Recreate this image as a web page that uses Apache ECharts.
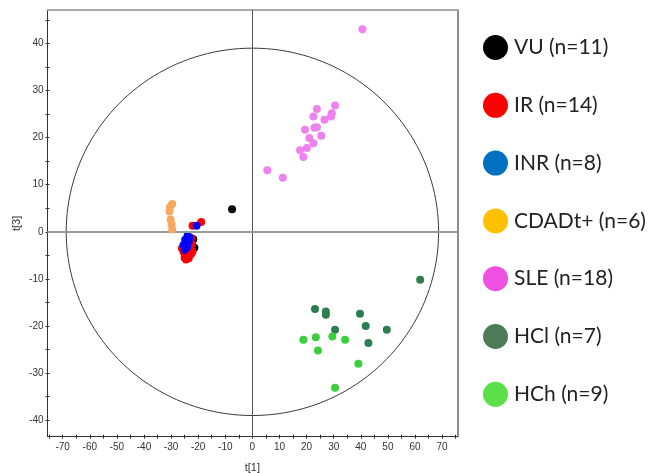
<!DOCTYPE html>
<html><head><meta charset="utf-8">
<script src="https://cdn.jsdelivr.net/npm/echarts@6/dist/echarts.min.js"></script>
<style>html,body{margin:0;padding:0;background:#fff}#c{width:649px;height:473px}</style>
</head><body><div id="c"></div>
<script>
// ---- data (t[1], t[3]) ----
const groupNames = ['VU (n=11)','IR (n=14)','INR (n=8)','CDADt+ (n=6)','SLE (n=18)','HCl (n=7)','HCh (n=9)'];
const VU = [[-7.5,4.8],[-21.4,-3.4],[-21.8,-1.6],[-23.5,-3.0],[-24.0,-4.0],[-23.0,-2.5],[-24.5,-2.0],[-23.8,-5.0],[-24.8,-4.5],[-23.3,-1.5],[-22.6,-4.4]];
const IR = [[-22.1,1.3],[-18.9,2.1],[-22.6,-1.3],[-22.3,-2.6],[-25.4,-4.3],[-24.1,-4.9],[-23.5,-5.6],[-25.0,-5.5],[-22.6,-4.7],[-22.9,-3.8],[-26.0,-3.5],[-24.5,-5.9],[-22.1,-4.2],[-23.8,-4.2]];
const INR = [[-20.6,1.3],[-23.9,-0.8],[-24.8,-1.7],[-23.5,-2.1],[-25.4,-2.8],[-24.1,-3.3],[-25.0,-3.8],[-23.2,-1.2]];
const CDADt = [[-29.6,5.9],[-30.4,5.2],[-30.6,4.3],[-30.2,2.6],[-29.8,1.6],[-29.6,0.5]];
const SLE = [[30.5,26.8],[23.8,26.1],[29.3,25.2],[29.0,24.5],[22.5,24.5],[26.6,23.8],[19.4,21.7],[22.9,22.1],[23.8,22.2],[25.4,20.4],[21.0,19.9],[22.5,18.8],[20.1,17.8],[17.6,17.3],[18.8,15.9],[5.5,13.1],[11.2,11.5],[40.6,43.0]];
const HCl = [[61.9,-10.2],[23.1,-16.4],[27.1,-16.9],[27.1,-17.6],[39.7,-17.4],[41.8,-20.0],[30.5,-20.8],[49.6,-20.8],[42.8,-23.6]];
const HCh = [[18.8,-22.9],[23.4,-22.4],[29.5,-22.2],[34.2,-22.9],[24.2,-25.2],[39.1,-28.0],[30.5,-33.1]];
// Hotelling T2 ellipse semi-axes (t[1], t[3])
const T2_A = 68.7, T2_B = 39.0;
// axis ticks / labels
const xLabels = [-70,-60,-50,-40,-30,-20,-10,0,10,20,30,40,50,60,70];
const xTicks = [-75,-70,-65,-60,-55,-50,-45,-40,-35,-30,-25,-20,-15,-10,-5,0,5,10,15,20,25,30,35,40,45,50,55,60,65,70,75];
const yLabels = [-40,-30,-20,-10,0,10,20,30,40];
const yTicks = [-40,-35,-30,-25,-20,-15,-10,-5,0,5,10,15,20,25,30,35,40,45];

const pointColors = ['#000000','#ff0000','#0000ff','#f8a860','#ee82ee','#2e7d50','#3ccf3c'];
const legendColors = ['#000000','#ff0000','#0070c0','#ffc000','#ee50e2','#4e7a57','#5be04a'];
const groups = [VU, IR, INR, CDADt, SLE, HCl, HCh];

const X_MIN=-75.6, X_MAX=75.6, Y_MIN=-43.5, Y_MAX=47.1;
const labelFont = {fontFamily:'Liberation Sans, Arial', fontSize:10, color:'#333'};

const chart = echarts.init(document.getElementById('c'), null, {renderer:'canvas'});
const mainX = {type:'value', min:X_MIN, max:X_MAX, position:'bottom', gridIndex:0,
  name:'t[1]', nameLocation:'middle', nameGap:26, nameTextStyle:Object.assign({},labelFont,{fontSize:11}),
  axisLine:{show:true, onZero:false, lineStyle:{color:'#333', width:1}},
  axisTick:{show:true, inside:false, length:2, customValues:xTicks, lineStyle:{color:'#333'}},
  axisLabel:Object.assign({show:true, margin:6, customValues:xLabels}, labelFont),
  splitLine:{show:false}};
const mainY = {type:'value', min:Y_MIN, max:Y_MAX, position:'left', gridIndex:0,
  name:'t[3]', nameLocation:'middle', nameGap:25, nameMoveOverlap:false, nameRotate:90, nameTextStyle:Object.assign({},labelFont,{fontSize:11}),
  axisLine:{show:true, onZero:false, lineStyle:{color:'#333', width:1}},
  axisTick:{show:true, inside:false, length:2, customValues:yTicks, lineStyle:{color:'#333'}},
  axisLabel:Object.assign({show:true, margin:4, customValues:yLabels}, labelFont),
  splitLine:{show:false}};

const series = [];
series.push({
  type:'custom', name:'T2', xAxisIndex:0, yAxisIndex:0, z:1, silent:true, data:[[0,0]],
  renderItem:function(params, api){
    const cx = api.value(0), cy = api.value(1);
    const pts = [];
    for (let i=0;i<=180;i++){
      const t = i/180*Math.PI*2;
      pts.push(api.coord([cx + T2_A*Math.cos(t), cy + T2_B*Math.sin(t)]));
    }
    return {type:'polygon', shape:{points:pts}, style:{fill:null, stroke:'#3a3a3a', lineWidth:1}};
  },
  markLine:{silent:true, symbol:'none', label:{show:false},
    data:[{xAxis:0, lineStyle:{color:'#555', width:1, type:'solid'}},
          {yAxis:0, lineStyle:{color:'#9a9a9a', width:2, type:'solid'}}]}
});
groups.forEach(function(g,i){
  series.push({type:'scatter', name:groupNames[i], xAxisIndex:0, yAxisIndex:0, z:2+i,
    data:g, symbol:'circle', symbolSize:8, itemStyle:{color:pointColors[i], opacity:1}});
});

chart.setOption({
  animation:false,
  grid:{left:47.5, right:191.7, top:10, bottom:36.3, containLabel:false, outerBoundsMode:'none'},
  xAxis:[mainX,
    {type:'value', min:X_MIN, max:X_MAX, position:'top', axisLine:{show:true, onZero:false, lineStyle:{color:'#aaaaaa', width:2}}, axisTick:{show:false}, axisLabel:{show:false}, splitLine:{show:false}},
    {type:'value', min:X_MIN, max:X_MAX, position:'bottom', axisLine:{show:false, onZero:false}, axisTick:{show:true, inside:true, length:2, customValues:xTicks, lineStyle:{color:'#333'}}, axisLabel:{show:false}, splitLine:{show:false}}],
  yAxis:[mainY,
    {type:'value', min:Y_MIN, max:Y_MAX, position:'right', axisLine:{show:true, onZero:false, lineStyle:{color:'#666', width:1.5}}, axisTick:{show:false}, axisLabel:{show:false}, splitLine:{show:false}},
    {type:'value', min:Y_MIN, max:Y_MAX, position:'left', axisLine:{show:false, onZero:false}, axisTick:{show:true, inside:true, length:2, customValues:yTicks, lineStyle:{color:'#333'}}, axisLabel:{show:false}, splitLine:{show:false}}],
  legend:{orient:'vertical', left:478, top:30, itemWidth:25, itemHeight:25, itemGap:32.8, icon:'circle',
    selectedMode:false,
    textStyle:{fontFamily:'Lato, Noto Sans, sans-serif', fontSize:21, color:'#222', padding:[0,0,0,1]},
    data:groupNames.map(function(n,i){return {name:n, itemStyle:{color:legendColors[i]}};})},
  series:series
});
</script></body></html>
